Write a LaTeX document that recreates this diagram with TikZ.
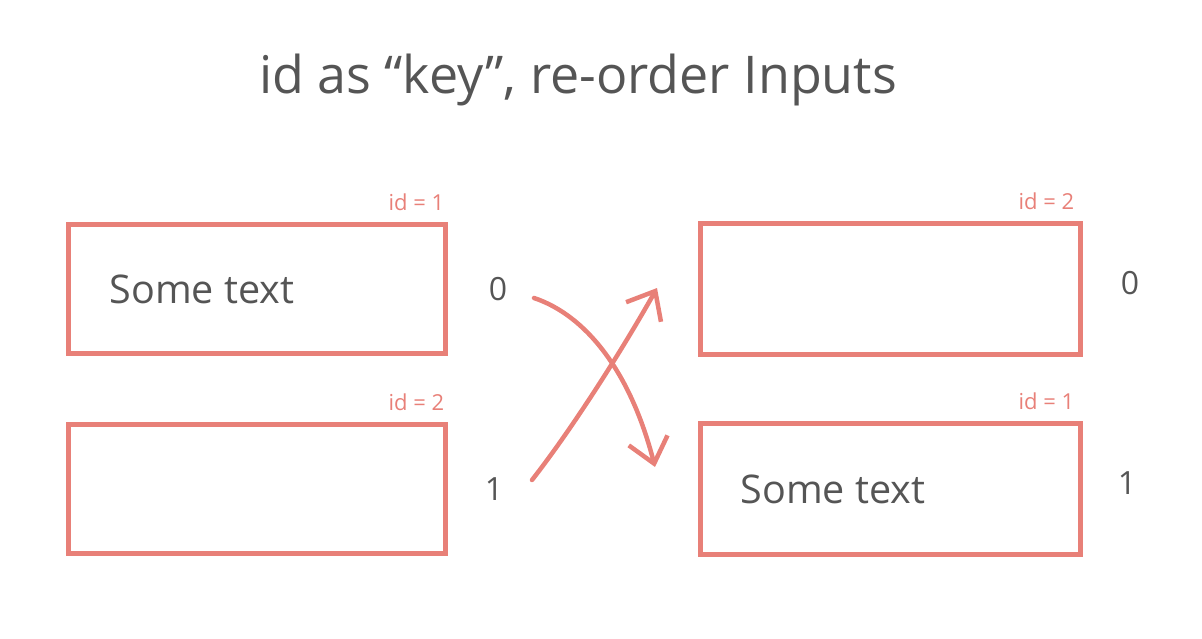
\documentclass[tikz,border=0pt]{standalone}
\usepackage{fontspec}
\setmainfont{Open Sans}
\usetikzlibrary{arrows.meta}
\definecolor{boxred}{RGB}{232,128,120}
\definecolor{ink}{RGB}{85,85,85}
\tikzset{
  card/.style={draw=boxred, line width=5pt, minimum width=377pt, minimum height=129pt, inner sep=0pt},
  idlabel/.style={text=boxred, font=\fontsize{22}{26}\selectfont, anchor=south east, inner sep=0pt},
  bodytext/.style={text=ink, font=\fontsize{39.5}{46}\selectfont, anchor=west, inner sep=0pt},
  idx/.style={text=ink, font=\fontsize{32}{36}\selectfont, inner sep=0pt},
  swap/.style={draw=boxred, line width=4.5pt, line cap=round,
    -{Straight Barb[length=24pt, width=40pt, line width=4.5pt]}},
}
\begin{document}
\begin{tikzpicture}[x=1pt, y=-1pt]
\useasboundingbox (0,0) rectangle (1202,638);
\node[text=ink, font=\fontsize{52}{60}\selectfont] (title) at (578,80) {id as “key”, re-order Inputs};
% left column
\node[card] (b1) at (256.5,289) {};
\node[card] (b2) at (256.5,489) {};
\node[idlabel] (l1) at ([xshift=-3pt,yshift=11pt]b1.north east) {id = 1};
\node[idlabel] (l2) at ([xshift=-3pt,yshift=11pt]b2.north east) {id = 2};
\node[bodytext] (t1) at ([xshift=44pt]b1.west) {Some text};
\node[idx] (i0) at (498,289) {0};
\node[idx] (i1) at (494,489) {1};
% right column
\node[card, minimum width=380pt, minimum height=131pt] (b3) at (890,289) {};
\node[card, minimum width=380pt, minimum height=131pt] (b4) at (890,489) {};
\node[idlabel] (l3) at ([xshift=-8pt,yshift=11pt]b3.north east) {id = 2};
\node[idlabel] (l4) at ([xshift=-8pt,yshift=11pt]b4.north east) {id = 1};
\node[bodytext] (t4) at ([xshift=43pt]b4.west) {Some text};
\node[idx] (j0) at (1130,283) {0};
\node[idx] (j1) at (1127,483) {1};
% swap arrows
\coordinate (s0) at (534,298);
\coordinate (e0) at (655,467);
\coordinate (s1) at (532,480);
\coordinate (e1) at (657,288);
\draw[swap] (s0) .. controls (585,315) and (630,370) .. (e0);
\draw[swap] (s1) .. controls (575,425) and (625,345) .. (e1);
\end{tikzpicture}
\end{document}
